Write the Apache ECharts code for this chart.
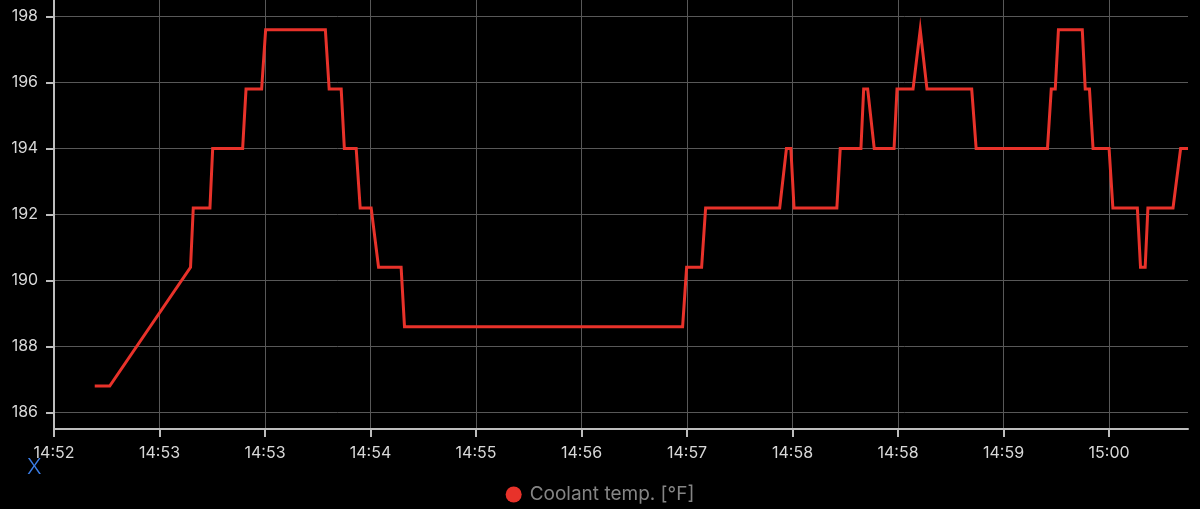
<!DOCTYPE html>
<html>
<head>
<meta charset="utf-8">
<script src="https://cdn.jsdelivr.net/npm/echarts@6/dist/echarts.min.js"></script>
<style>
  html, body { margin: 0; padding: 0; background: #000; }
  #chart { width: 1200px; height: 509px; }
</style>
</head>
<body>
<div id="chart"></div>
<script>
// seconds after the first x tick (≈14:52:15)
var times = [19.3, 26.4, 64.7, 66.0, 73.9, 75.2, 89.4, 91.0, 98.4, 100.3,
  128.6, 130.4, 136.1, 137.6, 143.2, 145.1, 150.3, 153.8, 164.5, 166.1,
  297.9, 299.8, 306.9, 308.8, 343.9, 347.1, 349.2, 350.7, 371.0, 372.6,
  382.4, 383.7, 385.6, 388.7, 398.1, 399.5, 407.1, 410.5, 413.7, 434.9,
  437.0, 470.8, 472.6, 474.5, 476.0, 487.3, 488.7, 490.7, 492.4, 500.0,
  501.8, 513.4, 514.9, 517.1, 518.4, 530.3, 533.9, 537.4];
// coolant temperature in °F
var temps = [186.8, 186.8, 190.4, 192.2, 192.2, 194.0, 194.0, 195.8, 195.8, 197.6,
  197.6, 195.8, 195.8, 194.0, 194.0, 192.2, 192.2, 190.4, 190.4, 188.6,
  188.6, 190.4, 190.4, 192.2, 192.2, 194.0, 194.0, 192.2, 192.2, 194.0,
  194.0, 195.8, 195.8, 194.0, 194.0, 195.8, 195.8, 197.6, 195.8, 195.8,
  194.0, 194.0, 195.8, 195.8, 197.6, 197.6, 195.8, 195.8, 194.0, 194.0,
  192.2, 192.2, 190.4, 190.4, 192.2, 192.2, 194.0, 194.0];

var xTicks = [0, 50, 100, 150, 200, 250, 300, 350, 400, 450, 500];
var xTickLabels = ['14:52', '14:53', '14:53', '14:54', '14:55', '14:56',
  '14:57', '14:58', '14:58', '14:59', '15:00'];
var yTicks = [186, 188, 190, 192, 194, 196, 198];

var seriesName = 'Coolant temp. [°F]';

var points = times.map(function (t, i) { return [t, temps[i]]; });

var chart = echarts.init(document.getElementById('chart'));
var axisColor = '#bdbdbd';
var gridColor = '#585858';
var font = 'Inter, "Noto Sans", sans-serif';

chart.setOption({
  backgroundColor: '#000',
  animation: false,
  textStyle: { fontFamily: font },
  grid: { left: 54, right: 12, top: 0, bottom: 80 },
  legend: {
    data: [{ name: seriesName, icon: 'circle' }],
    left: 'center',
    top: 480,
    itemWidth: 16,
    itemHeight: 16,
    textStyle: { color: '#858585', fontSize: 19, fontFamily: font, padding: [0, 0, 0, 3] }
  },
  graphic: [{
    type: 'text',
    left: 27,
    top: 456,
    style: { text: 'X', fill: '#3b7de6', fontSize: 22, fontWeight: 300, fontFamily: font }
  }],
  xAxis: {
    type: 'value',
    min: 0,
    max: 537.4,
    axisLine: { show: true, lineStyle: { color: axisColor, width: 2 } },
    axisTick: { show: true, length: 8, customValues: xTicks, lineStyle: { color: axisColor, width: 2 } },
    axisLabel: {
      customValues: xTicks,
      margin: 16,
      color: '#d8d8d8',
      fontSize: 16,
      fontFamily: font,
      formatter: function (v) { return xTickLabels[xTicks.indexOf(v)]; }
    },
    splitLine: { show: true, lineStyle: { color: gridColor, width: 1 } }
  },
  yAxis: {
    type: 'value',
    min: 185.5,
    max: 198.5,
    axisLine: { show: true, lineStyle: { color: axisColor, width: 2 } },
    axisTick: { show: true, length: 8, customValues: yTicks, lineStyle: { color: axisColor, width: 2 } },
    axisLabel: {
      customValues: yTicks,
      margin: 16,
      color: '#d8d8d8',
      fontSize: 16,
      fontFamily: font
    },
    splitLine: { show: true, lineStyle: { color: gridColor, width: 1 } }
  },
  series: [{
    name: seriesName,
    type: 'line',
    data: points,
    showSymbol: false,
    color: '#e8322a',
    lineStyle: { color: '#e8322a', width: 3, join: 'miter' }
  }]
});
</script>
</body>
</html>
